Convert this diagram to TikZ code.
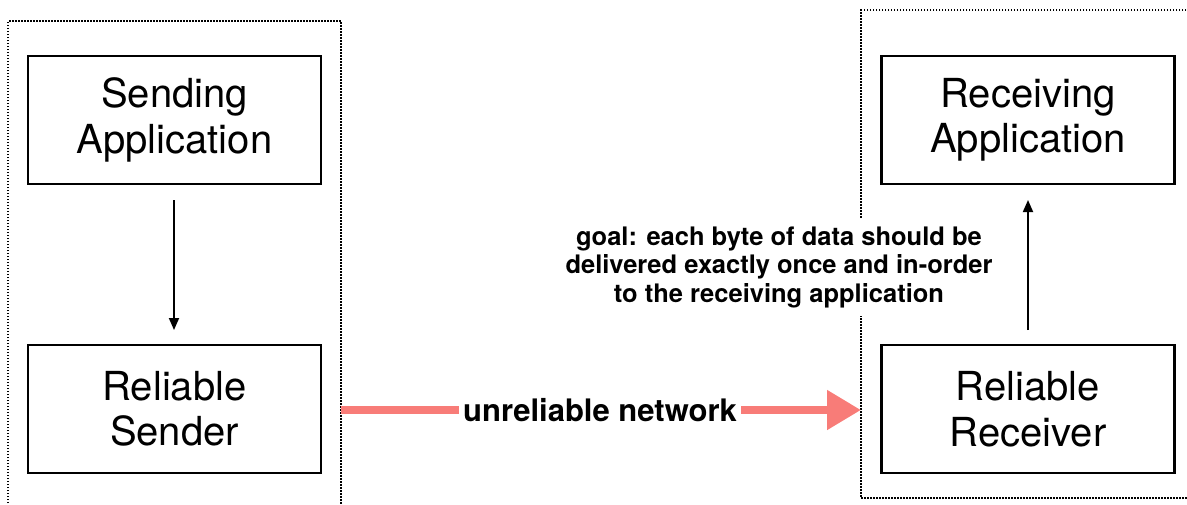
\documentclass[tikz,border=0pt]{standalone}
\usepackage{fontspec}
\setmainfont{TeX Gyre Heros}
\usetikzlibrary{arrows.meta}
\definecolor{netred}{RGB}{248,124,120}
\tikzset{
  frame/.style={line width=2pt, dash pattern=on 1.5pt off 1.5pt},
  box/.style={draw, line width=2.2pt, minimum width=293pt, minimum height=128pt, align=center, inner sep=0pt,
    font=\fontsize{40}{45.5}\selectfont},
  flow/.style={line width=1.8pt, -{Triangle[width=10pt,length=12pt]}},
  netline/.style={netred, line width=8pt},
}
\begin{document}
\begin{tikzpicture}[x=1pt,y=-1pt]
\useasboundingbox (0,0) rectangle (1187,504);
% frames
\draw[frame] (8,512) -- (8,21) -- (341,21) -- (341,512);
\draw[frame] (1195,10) -- (861,10) -- (861,498) -- (1195,498);
% boxes
\node[box] (sa) at (174.5,120) {Sending\\Application};
\node[box] (rs) at (174.5,409) {Reliable\\Sender};
\node[box] (ra) at (1028,120) {Receiving\\Application};
\node[box] (rr) at (1028,409) {Reliable\\Receiver};
% vertical arrows
\coordinate (a1) at (174,200);
\coordinate (a2) at (174,330);
\draw[flow] (a1) -- (a2);
\coordinate (b1) at (1028,330);
\coordinate (b2) at (1028,200);
\draw[flow] (b1) -- (b2);
% goal text
\node[fill=white, align=center, inner xsep=4pt, inner ysep=8pt, font=\bfseries\fontsize{25.5}{28.5}\selectfont] (goal) at (779,267)
  {goal: each byte of data should be\\delivered exactly once and in-order\\to the receiving application};
% unreliable network
\node[font=\bfseries\fontsize{31}{34}\selectfont, inner xsep=4pt] (net) at (600,410) {unreliable network};
\coordinate (n0) at (341,410);
\coordinate (n1) at (861,410);
\draw[netline] (n0) -- (net.west);
\draw[netline, -{Triangle[width=38pt,length=34pt]}] (net.east) -- (n1);
\end{tikzpicture}
\end{document}
